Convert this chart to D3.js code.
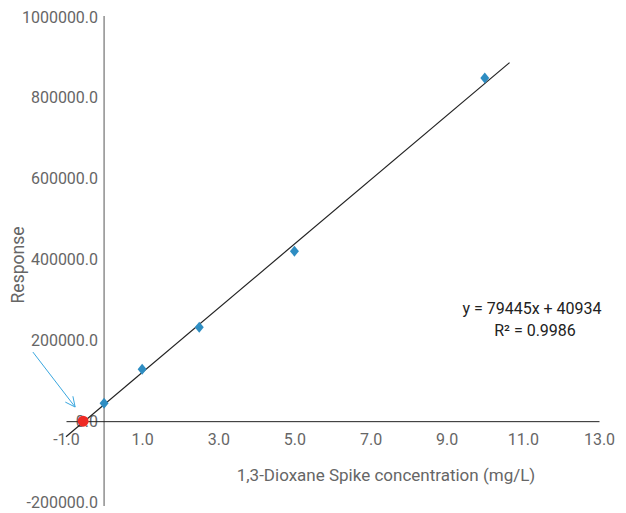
<!DOCTYPE html>
<html>
<head>
<meta charset="utf-8">
<script src="https://cdn.jsdelivr.net/npm/d3@7"></script>
<style>
  body { margin: 0; background: #fff; }
  svg text { font-family: Roboto, "Noto Sans", sans-serif; }
</style>
</head>
<body>
<div id="chart"></div>
<script>
const FRAME_WIDTH = 626;
const FRAME_HEIGHT = 513;

// calibration points (spike conc. mg/L vs response)
const concentrations = [0, 1, 2.5, 5, 10];
const responses = [44500, 128700, 232600, 420700, 849000];

// the x-intercept marker (red dot)
const interceptPoint = [-0.55, 0];

// trendline y = 79445x + 40934, drawn over this x span
const slope = 79445;
const intercept = 40934;
const trendX = [-1, 10.65];

// axis ticks
const xTicks = [-1, 1, 3, 5, 7, 9, 11, 13];
const yTicks = [-200000, 0, 200000, 400000, 600000, 800000, 1000000];

// annotation arrow, in data units (start, end)
const arrowFrom = [-1.87, 171000];
const arrowTo = [-0.76, 35000];

const svg = d3.select("#chart")
  .append("svg")
    .attr("width", FRAME_WIDTH)
    .attr("height", FRAME_HEIGHT);

const x = d3.scaleLinear().domain([-1, 13]).range([66, 599]);
const y = d3.scaleLinear().domain([-200000, 1000000]).range([502, 17]);

// y axis sits at x = 0
const yAxis = svg.append("g")
  .attr("transform", "translate(" + x(0) + ",0)")
  .call(d3.axisLeft(y).tickValues(yTicks).tickSize(0).tickPadding(6)
    .tickFormat(d => d.toFixed(1)));
yAxis.select(".domain").attr("stroke", "#555").attr("d", "M0," + (y(1000000) - 1) + "V" + (y(-200000) + 4));
yAxis.selectAll("text").attr("fill", "#666").style("font-size", "16px");

// x axis sits at y = 0
const xAxis = svg.append("g")
  .attr("transform", "translate(0," + y(0) + ")")
  .call(d3.axisBottom(x).tickValues(xTicks).tickSize(0).tickPadding(12)
    .tickFormat(d => d.toFixed(1)));
xAxis.select(".domain").attr("stroke", "#222");
xAxis.selectAll("text").attr("fill", "#666").style("font-size", "16px");

// axis titles
svg.append("text")
  .attr("x", 386)
  .attr("y", 481)
  .attr("text-anchor", "middle")
  .attr("fill", "#666")
  .style("font-size", "17px")
  .text("1,3-Dioxane Spike concentration (mg/L)");

svg.append("text")
  .attr("transform", "translate(24,265) rotate(-90)")
  .attr("text-anchor", "middle")
  .attr("fill", "#666")
  .style("font-size", "17.5px")
  .text("Response");

// trendline
svg.append("line")
  .attr("x1", x(trendX[0])).attr("y1", y(slope * trendX[0] + intercept))
  .attr("x2", x(trendX[1])).attr("y2", y(slope * trendX[1] + intercept))
  .attr("stroke", "#222")
  .attr("stroke-width", 1.2);

// data points as diamonds
svg.append("g")
  .selectAll("path")
  .data(concentrations)
  .enter()
  .append("path")
    .attr("d", "M0,-5.5L4.5,0L0,5.5L-4.5,0Z")
    .attr("transform", (d, i) => "translate(" + x(d) + "," + y(responses[i]) + ")")
    .attr("fill", "#2e8dc2");

// x-intercept dot
svg.append("circle")
  .attr("cx", x(interceptPoint[0]))
  .attr("cy", y(interceptPoint[1]))
  .attr("r", 5.5)
  .attr("fill", "#ee2a24");

// arrow pointing at the intercept
const ax1 = x(arrowFrom[0]), ay1 = y(arrowFrom[1]);
const ax2 = x(arrowTo[0]), ay2 = y(arrowTo[1]);
const ang = Math.atan2(ay2 - ay1, ax2 - ax1);
const headLen = 11, headAng = 0.45;
svg.append("path")
  .attr("d", "M" + ax1 + "," + ay1 + "L" + ax2 + "," + ay2 +
    "M" + (ax2 - headLen * Math.cos(ang - headAng)) + "," + (ay2 - headLen * Math.sin(ang - headAng)) +
    "L" + ax2 + "," + ay2 +
    "L" + (ax2 - headLen * Math.cos(ang + headAng)) + "," + (ay2 - headLen * Math.sin(ang + headAng)))
  .attr("fill", "none")
  .attr("stroke", "#3aa7df")
  .attr("stroke-width", 1);

// regression equation
svg.append("text")
  .attr("x", 532).attr("y", 314)
  .attr("text-anchor", "middle")
  .attr("fill", "#222")
  .style("font-size", "16px")
  .text("y = " + slope + "x + " + intercept);
svg.append("text")
  .attr("x", 535).attr("y", 336)
  .attr("text-anchor", "middle")
  .attr("fill", "#222")
  .style("font-size", "16px")
  .text("R² = 0.9986");
</script>
</body>
</html>
